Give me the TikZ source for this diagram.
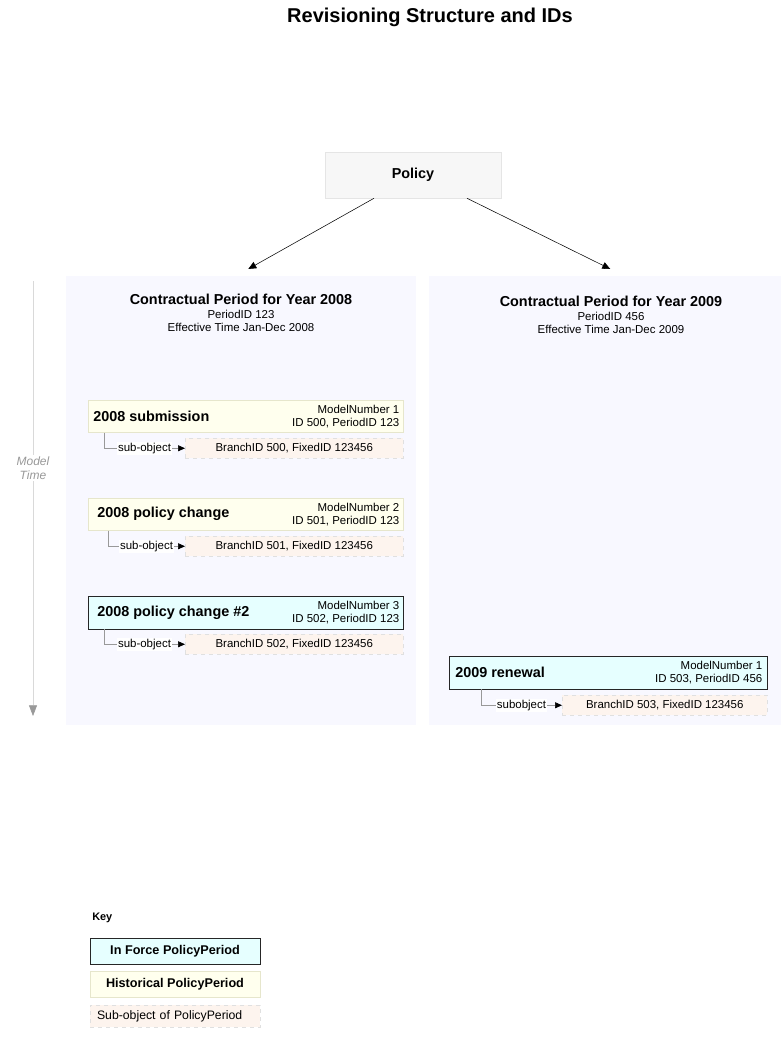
\documentclass[tikz,border=0pt]{standalone}
\usepackage{fontspec}
\setmainfont{Liberation Sans}
\usetikzlibrary{arrows.meta,positioning}

\definecolor{policybg}{HTML}{F7F7F7}
\definecolor{periodbg}{HTML}{F8F8FF}
\definecolor{inforcebg}{HTML}{E6FFFF}
\definecolor{histbg}{HTML}{FFFFEE}
\definecolor{histline}{HTML}{E6E6CC}
\definecolor{subbg}{HTML}{FDF4EE}

\begin{document}
\begin{tikzpicture}[x=0.75pt,y=-0.75pt,
  smallfont/.style={font=\fontsize{8.6}{9.75}\selectfont},
  boldfont/.style={font=\bfseries\fontsize{10.8}{13}\selectfont},
  period/.style={fill=periodbg,minimum width=#1,minimum height=336.75pt,inner sep=0pt,anchor=north west},
  inforce/.style={draw=black!85,fill=inforcebg,minimum width=#1,minimum height=24.5pt,inner sep=0pt,anchor=north west},
  hist/.style={draw=histline,fill=histbg,minimum width=#1,minimum height=24pt,inner sep=0pt,anchor=north west},
  subobj/.style={draw=black!12,dashed,fill=subbg,minimum width=#1,minimum height=15pt,inner sep=0pt,anchor=north west,smallfont},
  vtitle/.style={boldfont,anchor=west,inner sep=0pt},
  vinfo/.style={smallfont,align=right,anchor=east,inner sep=0pt},
  subline/.style={draw=black!40,-{Triangle[color=black,length=5.25pt,width=4.5pt]}},
  sublabel/.style={pos=0.75,fill=white,inner sep=1pt,smallfont},
  keybox/.style={minimum width=127.5pt,minimum height=#1,inner sep=0pt}]

\useasboundingbox (0,0) rectangle (782,1041);

\node[font=\bfseries\fontsize{15}{18}\selectfont] (title) at (430,17) {Revisioning Structure and IDs};

\node[draw=black!10,fill=policybg,minimum width=132pt,minimum height=34.5pt,boldfont] (policy) at (413,175) {Policy};

\node[period=262.5pt] (p2008) at (66,276) {};
\node[period=264pt] (p2009) at (429,276) {};

\draw[-{Triangle[length=6pt,width=5.25pt]}] ([xshift=-29.25pt]policy.south) -- ([xshift=5.25pt,yshift=5.25pt]p2008.north);
\draw[-{Triangle[length=6pt,width=5.25pt]}] ([xshift=40.5pt]policy.south) -- ([xshift=3.75pt,yshift=5.25pt]p2009.north);

\node[boldfont] (h2008) at (241,299) {Contractual Period for Year 2008};
\node[smallfont,align=center,below=0pt of h2008,inner sep=1pt] (h2008info) {PeriodID 123\\Effective Time Jan-Dec 2008};
\node[boldfont] (h2009) at (611,301) {Contractual Period for Year 2009};
\node[smallfont,align=center,below=0pt of h2009,inner sep=1pt] (h2009info) {PeriodID 456\\Effective Time Jan-Dec 2009};

\coordinate (mttop) at (33,281);
\coordinate (mtbot) at (33,716);
\draw[draw=black!15,-{Triangle[color=black!40,length=8pt,width=6pt]}] (mttop) -- node[pos=0.43,fill=white,align=center,inner sep=1pt,text=black!40,font=\itshape\fontsize{9}{11}\selectfont] (mtlabel) {Model\\Time} (mtbot);

\node[hist=236.25pt] (v500) at (88,400) {};
\node[vtitle] at ([xshift=3.75pt]v500.west) {2008 submission};
\node[vinfo] at ([xshift=-3pt]v500.east) {ModelNumber 1\\ID 500, PeriodID 123};
\node[subobj=163.5pt] (b500) at (185,438) {BranchID 500, FixedID 123456};
\draw[subline] ([xshift=12pt]v500.south west) |- node[sublabel] {sub-object} (b500.west);

\node[hist=236.25pt] (v501) at (88,498) {};
\node[vtitle] at ([xshift=6.75pt]v501.west) {2008 policy change};
\node[vinfo] at ([xshift=-3pt]v501.east) {ModelNumber 2\\ID 501, PeriodID 123};
\node[subobj=163.5pt] (b501) at (185,536) {BranchID 501, FixedID 123456};
\draw[subline] ([xshift=15pt]v501.south west) |- node[sublabel] {sub-object} (b501.west);

\node[inforce=236.25pt] (v502) at (88,596) {};
\node[vtitle] at ([xshift=6.75pt]v502.west) {2008 policy change \#2};
\node[vinfo] at ([xshift=-3pt]v502.east) {ModelNumber 3\\ID 502, PeriodID 123};
\node[subobj=163.5pt] (b502) at (185,634) {BranchID 502, FixedID 123456};
\draw[subline] ([xshift=12pt]v502.south west) |- node[sublabel] {sub-object} (b502.west);

\node[inforce=238.5pt] (v503) at (449,656) {};
\node[vtitle] at ([xshift=4.5pt]v503.west) {2009 renewal};
\node[vinfo] at ([xshift=-3.75pt]v503.east) {ModelNumber 1\\ID 503, PeriodID 456};
\node[subobj=153.75pt] (b503) at (562,695) {BranchID 503, FixedID 123456};
\draw[subline] ([xshift=24pt]v503.south west) |- node[sublabel] {subobject} (b503.west);

\node[anchor=west,inner sep=0pt,font=\bfseries\fontsize{8.2}{10}\selectfont] (keytitle) at (92,918) {Key};
\node[keybox=19.5pt,draw=black!85,fill=inforcebg,font=\bfseries\fontsize{9.5}{11}\selectfont] (kinforce) at (175,951) {In Force PolicyPeriod};
\node[keybox=19.5pt,draw=histline,fill=histbg,font=\bfseries\fontsize{9.5}{11}\selectfont] (khist) at (175,984) {Historical PolicyPeriod};
\node[keybox=16.5pt,draw=black!12,dashed,fill=subbg,text width=117pt,inner xsep=5.25pt,align=left,font=\fontsize{9.2}{11}\selectfont] (ksub) at (175,1016) {Sub-object of PolicyPeriod};
\end{tikzpicture}
\end{document}
